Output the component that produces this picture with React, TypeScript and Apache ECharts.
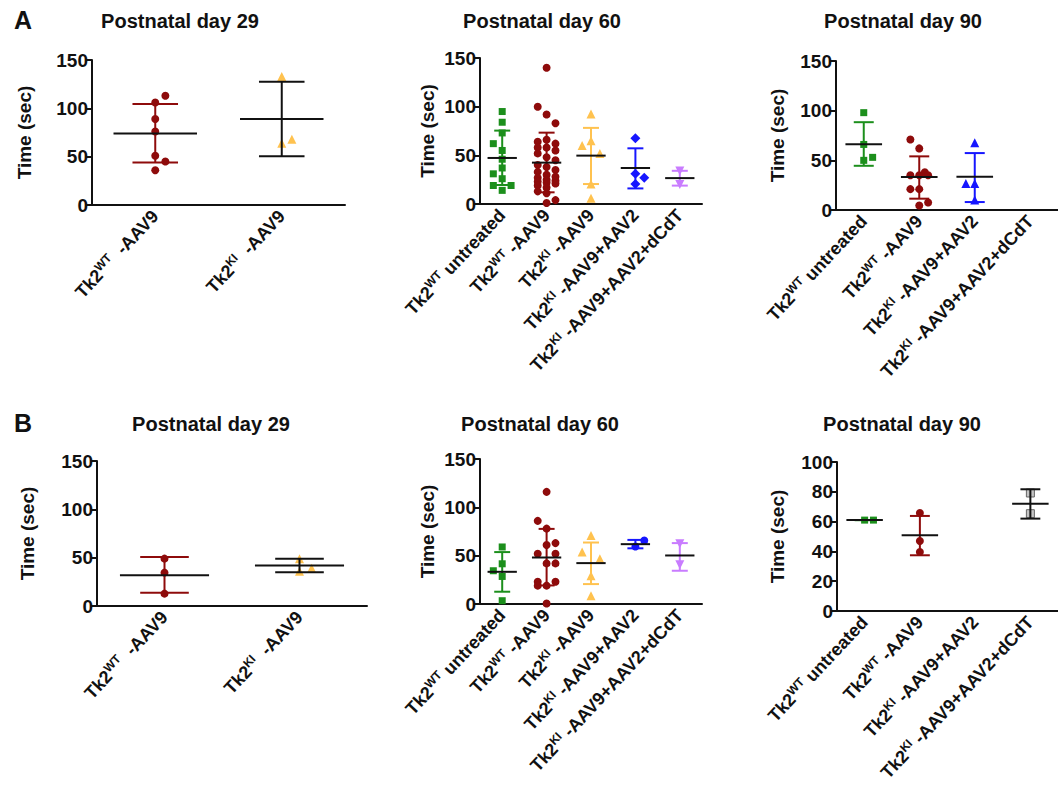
import React, { useEffect, useRef } from 'react';
import * as echarts from 'echarts';

type Pt = [number, number]; // [time in sec, horizontal scatter offset in category units]

// ---------------- categories & ticks ----------------
const CATS_D29 = ['Tk2^WT  -AAV9', 'Tk2^KI  -AAV9'];
const CATS_D60 = ['Tk2^WT untreated', 'Tk2^WT -AAV9', 'Tk2^KI -AAV9', 'Tk2^KI -AAV9+AAV2', 'Tk2^KI -AAV9+AAV2+dCdT'];
const CATS_D90 = ['Tk2^WT untreated', 'Tk2^WT -AAV9', 'Tk2^KI -AAV9+AAV2', 'Tk2^KI -AAV9+AAV2+dCdT'];
const Y_TICKS_150 = [0, 50, 100, 150];
const Y_TICKS_100 = [0, 20, 40, 60, 80, 100];

// ---------------- panel A, day 29 ----------------
const A29_WT: Pt[] = [[113, 0.08], [106, 0], [89, 0], [76, 0], [51, 0], [45, 0.08], [36, 0]];
const A29_KI: Pt[] = [[133, 0], [68, 0.08], [64, 0]];
const A29_MEAN = [74, 89];
const A29_LOW = [44, 50.4];
const A29_HIGH = [104.5, 127.5];

// ---------------- panel A, day 60 ----------------
const A60_UNTR: Pt[] = [[95, 0], [84, 0], [73, 0], [62, -0.2], [55, 0], [46, 0], [37, 0], [31, -0.2], [26, 0], [19, -0.2], [19, 0.2], [14, 0]];
const A60_WT: Pt[] = [[140, 0], [100, -0.2], [92, 0], [83, 0.2], [66, 0], [64, -0.2], [62, 0.2], [58, -0.2], [58, 0], [55, 0.2], [52, -0.2], [48, 0], [45, 0.2], [40, -0.2], [38, 0], [35, 0.2], [33, -0.2], [30, 0], [28, 0.2], [27, -0.2], [25, 0], [24, 0.2], [23, -0.2], [22, 0], [21, 0.2], [19, -0.2], [17, 0], [13, -0.2], [11, 0], [4, 0.2], [1, 0]];
const A60_KI: Pt[] = [[92.5, 0], [65, 0], [60, -0.2], [52, 0.2], [20.5, 0], [6, 0]];
const A60_AAV2: Pt[] = [[67.5, 0], [31, 0], [27, 0.2], [20.5, 0]];
const A60_DCDT: Pt[] = [[34, 0], [20, 0]];
const A60_MEAN = [47.3, 42.5, 49.7, 37, 26.6];
const A60_LOW = [19.5, 12, 20.5, 16, 18.9];
const A60_HIGH = [75.4, 73.3, 78.2, 57.2, 34.1];

// ---------------- panel A, day 90 ----------------
const A90_UNTR: Pt[] = [[98, 0], [66, 0], [53, 0.16], [50, 0]];
const A90_WT: Pt[] = [[71, -0.16], [62, 0], [38, 0.1], [35, -0.16], [35, 0], [35, 0.16], [21, -0.16], [21, 0], [7.5, 0.16], [4.5, 0]];
const A90_AAV2: Pt[] = [[67.6, 0], [26.8, -0.16], [26.8, 0], [10, 0]];
const A90_DCDT: Pt[] = [];
const A90_MEAN = [66.3, 33.2, 33.5, null];
const A90_LOW = [44.5, 11.4, 8, null];
const A90_HIGH = [88.4, 54, 57.3, null];

// ---------------- panel B, day 29 ----------------
const B29_WT: Pt[] = [[49, 0], [34.5, 0], [12.8, 0]];
const B29_KI: Pt[] = [[49, 0], [39, 0.09], [36, 0]];
const B29_MEAN = [31.7, 41.8];
const B29_LOW = [13.8, 35];
const B29_HIGH = [50.7, 49];

// ---------------- panel B, day 60 ----------------
const B60_UNTR: Pt[] = [[59, 0], [41.6, 0], [34.4, -0.2], [28.5, 0], [3.4, 0]];
const B60_WT: Pt[] = [[116, 0], [86, -0.2], [78, 0], [63, 0.2], [61, 0], [52, -0.2], [52, 0.2], [42, 0], [42, 0.2], [23, -0.2], [23, 0.2], [19, -0.2], [19, 0], [0.5, 0]];
const B60_KI: Pt[] = [[70.8, 0], [53.7, -0.2], [46.8, 0.2], [29.2, 0], [8.6, 0]];
const B60_AAV2: Pt[] = [[65.6, 0.2], [59.5, 0]];
const B60_DCDT: Pt[] = [[62.2, 0], [40.6, 0]];
const B60_MEAN = [33.3, 48.1, 42.3, 61.9, 50.2];
const B60_LOW = [12.7, 19.2, 20.6, 57.6, 34.4];
const B60_HIGH = [53.7, 77.7, 63.6, 66.3, 63];

// ---------------- panel B, day 90 ----------------
const B90_UNTR: Pt[] = [[61, 0], [61, 0.16]];
const B90_WT: Pt[] = [[65.8, 0], [47, 0], [39.6, 0]];
const B90_AAV2: Pt[] = [];
const B90_DCDT: Pt[] = [[79.2, 0], [65.3, 0]];
const B90_MEAN = [61, 50.8, null, 72];
const B90_LOW = [61, 37.4, null, 62];
const B90_HIGH = [61, 63.8, null, 81.7];

// ---------------- styles ----------------
const FONT = '"Liberation Sans", Arial, Helvetica, sans-serif';
const INK = '#111111';
const DARKRED = '#8e0b0b';
const GREEN = '#1c8f1c';
const ORANGE = '#ffc24f';
const BLUE = '#1616ff';
const VIOLET = '#c97cff';

interface Style { color: string; symbol: string; size: number; rotate?: number; border?: string }
const S_UNTR: Style = { color: GREEN, symbol: 'rect', size: 7 };
const S_WT: Style = { color: DARKRED, symbol: 'circle', size: 8 };
const S_KI: Style = { color: ORANGE, symbol: 'triangle', size: 9 };
const S_DIAM: Style = { color: BLUE, symbol: 'diamond', size: 10 };
const S_BTRI: Style = { color: BLUE, symbol: 'triangle', size: 9 };
const S_BCIRC: Style = { color: BLUE, symbol: 'circle', size: 8 };
const S_DCDT: Style = { color: VIOLET, symbol: 'triangle', size: 9, rotate: 180 };
const S_GRAY: Style = { color: '#c4c4c4', symbol: 'rect', size: 8, border: '#666' };

interface Group { pts: Pt[]; st: Style; err: string }
interface Panel {
  title: string; tx: number; ty: number;
  x0: number; x1: number; y0: number; y1: number;
  cats: string[]; ticks: number[]; nameGap: number;
  groups: Group[]; mean: (number | null)[]; low: (number | null)[]; high: (number | null)[];
}

const PANELS: Panel[] = [
  { title: 'Postnatal day 29', tx: 180, ty: 21, x0: 92, x1: 345, y0: 60, y1: 205, cats: CATS_D29, ticks: Y_TICKS_150, nameGap: 58,
    groups: [{ pts: A29_WT, st: S_WT, err: DARKRED }, { pts: A29_KI, st: S_KI, err: INK }],
    mean: A29_MEAN, low: A29_LOW, high: A29_HIGH },
  { title: 'Postnatal day 60', tx: 542, ty: 21, x0: 480, x1: 702, y0: 58, y1: 204, cats: CATS_D60, ticks: Y_TICKS_150, nameGap: 43,
    groups: [
      { pts: A60_UNTR, st: S_UNTR, err: GREEN }, { pts: A60_WT, st: S_WT, err: DARKRED }, { pts: A60_KI, st: S_KI, err: ORANGE },
      { pts: A60_AAV2, st: S_DIAM, err: BLUE }, { pts: A60_DCDT, st: S_DCDT, err: VIOLET }],
    mean: A60_MEAN, low: A60_LOW, high: A60_HIGH },
  { title: 'Postnatal day 90', tx: 903, ty: 21, x0: 836, x1: 1058, y0: 61, y1: 210, cats: CATS_D90, ticks: Y_TICKS_150, nameGap: 49,
    groups: [
      { pts: A90_UNTR, st: S_UNTR, err: GREEN }, { pts: A90_WT, st: S_WT, err: DARKRED },
      { pts: A90_AAV2, st: S_BTRI, err: BLUE }, { pts: A90_DCDT, st: S_DCDT, err: VIOLET }],
    mean: A90_MEAN, low: A90_LOW, high: A90_HIGH },
  { title: 'Postnatal day 29', tx: 211, ty: 424, x0: 97, x1: 367, y0: 461, y1: 606, cats: CATS_D29, ticks: Y_TICKS_150, nameGap: 60,
    groups: [{ pts: B29_WT, st: S_WT, err: DARKRED }, { pts: B29_KI, st: S_KI, err: INK }],
    mean: B29_MEAN, low: B29_LOW, high: B29_HIGH },
  { title: 'Postnatal day 60', tx: 540, ty: 424, x0: 480, x1: 702, y0: 459, y1: 604, cats: CATS_D60, ticks: Y_TICKS_150, nameGap: 43,
    groups: [
      { pts: B60_UNTR, st: S_UNTR, err: GREEN }, { pts: B60_WT, st: S_WT, err: DARKRED }, { pts: B60_KI, st: S_KI, err: ORANGE },
      { pts: B60_AAV2, st: S_BCIRC, err: BLUE }, { pts: B60_DCDT, st: S_DCDT, err: VIOLET }],
    mean: B60_MEAN, low: B60_LOW, high: B60_HIGH },
  { title: 'Postnatal day 90', tx: 902, ty: 424, x0: 837, x1: 1058, y0: 462, y1: 611, cats: CATS_D90, ticks: Y_TICKS_100, nameGap: 50,
    groups: [
      { pts: B90_UNTR, st: S_UNTR, err: GREEN }, { pts: B90_WT, st: S_WT, err: DARKRED },
      { pts: B90_AAV2, st: S_BTRI, err: BLUE }, { pts: B90_DCDT, st: S_GRAY, err: INK }],
    mean: B90_MEAN, low: B90_LOW, high: B90_HIGH },
];

const RICH = {
  b: { fontSize: 18, fontWeight: 'bold', fontFamily: FONT, color: INK, lineHeight: 21 },
  s: { fontSize: 12, fontWeight: 'bold', fontFamily: FONT, color: INK, lineHeight: 12, verticalAlign: 'top' },
};

function fmtCat(v: string) {
  const m = v.match(/^(.*?)\^(\w+)(.*)$/);
  return m ? `{b|${m[1]}}{s|${m[2]}}{b|${m[3]}}` : `{b|${v}}`;
}

function buildOption() {
  const grid: any[] = [];
  const xAxis: any[] = [];
  const yAxis: any[] = [];
  const series: any[] = [];
  const graphic: any[] = [];

  graphic.push({ type: 'text', x: 23, y: 20, style: { text: 'A', fill: INK, fontSize: 25, fontWeight: 'bold', fontFamily: FONT, align: 'center', verticalAlign: 'middle' } });
  graphic.push({ type: 'text', x: 23, y: 423, style: { text: 'B', fill: INK, fontSize: 25, fontWeight: 'bold', fontFamily: FONT, align: 'center', verticalAlign: 'middle' } });

  PANELS.forEach((p, k) => {
    graphic.push({ type: 'text', x: p.tx, y: p.ty, style: { text: p.title, fill: INK, fontSize: 20, fontWeight: 'bold', fontFamily: FONT, align: 'center', verticalAlign: 'middle' } });
    grid.push({ left: p.x0, top: p.y0, width: p.x1 - p.x0, height: p.y1 - p.y0 });
    const n = p.cats.length;
    xAxis.push({
      type: 'category', gridIndex: k, data: p.cats, boundaryGap: true, position: 'bottom',
      axisLine: { onZero: false, lineStyle: { color: INK, width: 2 } },
      axisTick: { alignWithLabel: true, length: 6, lineStyle: { color: INK, width: 2 } },
      axisLabel: { interval: 0, rotate: 47, margin: 8, formatter: fmtCat, rich: RICH },
      splitLine: { show: false },
    });
    xAxis.push({ type: 'value', gridIndex: k, min: -0.5, max: n - 0.5, show: false, splitLine: { show: false } });
    const t = p.ticks;
    yAxis.push({
      type: 'value', gridIndex: k, min: t[0], max: t[t.length - 1], interval: t[1] - t[0],
      name: 'Time (sec)', nameLocation: 'middle', nameGap: p.nameGap,
      nameTextStyle: { fontSize: 19, fontWeight: 'bold', color: INK, fontFamily: FONT },
      axisLine: { show: true, onZero: false, lineStyle: { color: INK, width: 2 } },
      axisTick: { show: true, length: 6, lineStyle: { color: INK, width: 2 } },
      axisLabel: { fontSize: 19, fontWeight: 'bold', color: INK, fontFamily: FONT, margin: 4 },
      splitLine: { show: false },
    });

    p.groups.forEach((g, i) => {
      if (!g.pts.length) return;
      series.push({
        type: 'scatter', xAxisIndex: 2 * k + 1, yAxisIndex: k, z: 2,
        symbol: g.st.symbol, symbolSize: g.st.size, symbolRotate: g.st.rotate || 0,
        itemStyle: { color: g.st.color, borderColor: g.st.border || g.st.color, borderWidth: g.st.border ? 1 : 0, opacity: 1 },
        emphasis: { disabled: true },
        data: g.pts.map(([v, o]) => [i + o, v]),
      });
    });

    const errData: number[][] = [];
    p.mean.forEach((m, i) => {
      if (m == null) return;
      errData.push([i, m, p.low[i] as number, p.high[i] as number]);
    });
    series.push({
      type: 'custom', xAxisIndex: 2 * k + 1, yAxisIndex: k, z: 3,
      encode: { x: 0, y: 1 },
      data: errData,
      renderItem: (params: any, api: any) => {
        const i = api.value(0);
        const pm = api.coord([i, api.value(1)]);
        const pl = api.coord([i, api.value(2)]);
        const ph = api.coord([i, api.value(3)]);
        const unit = api.size([1, 0])[0];
        const cap = unit * 0.18;
        const half = unit * 0.33;
        const col = p.groups[i].err;
        const ls = { stroke: col, lineWidth: 2 };
        return {
          type: 'group',
          children: [
            { type: 'line', shape: { x1: pm[0], y1: ph[1], x2: pm[0], y2: pl[1] }, style: ls },
            { type: 'line', shape: { x1: pm[0] - cap, y1: ph[1], x2: pm[0] + cap, y2: ph[1] }, style: ls },
            { type: 'line', shape: { x1: pm[0] - cap, y1: pl[1], x2: pm[0] + cap, y2: pl[1] }, style: ls },
            { type: 'line', shape: { x1: pm[0] - half, y1: pm[1], x2: pm[0] + half, y2: pm[1] }, style: { stroke: INK, lineWidth: 2 } },
          ],
        };
      },
    });
  });

  return {
    animation: false,
    backgroundColor: '#ffffff',
    textStyle: { fontFamily: FONT },
    grid, xAxis, yAxis, series, graphic,
  };
}

export default function App() {
  const ref = useRef<HTMLDivElement>(null);
  useEffect(() => {
    if (!ref.current) return;
    const chart = echarts.init(ref.current, undefined, { renderer: 'svg' });
    chart.setOption(buildOption() as any);
    return () => chart.dispose();
  }, []);
  return <div ref={ref} style={{ position: 'absolute', left: 0, top: 0, width: 1058, height: 785, background: '#fff' }} />;
}
